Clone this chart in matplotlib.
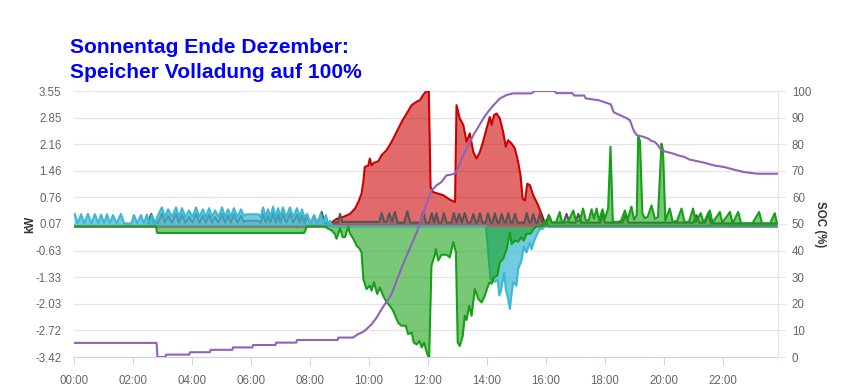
import matplotlib
matplotlib.use("Agg")
import matplotlib.pyplot as plt
import numpy as np

plt.rcParams['font.family'] = ['Liberation Sans', 'DejaVu Sans']

title_lines = ["Sonnentag Ende Dezember:", "Speicher Volladung auf 100%"]
x_tick_hours = [0, 2, 4, 6, 8, 10, 12, 14, 16, 18, 20, 22]
x_tick_labels = ["00:00", "02:00", "04:00", "06:00", "08:00", "10:00", "12:00",
                 "14:00", "16:00", "18:00", "20:00", "22:00"]
kw_ticks = [-3.42, -2.72, -2.03, -1.33, -0.63, 0.07, 0.76, 1.46, 2.16, 2.85, 3.55]
kw_tick_labels = ["-3.42", "-2.72", "-2.03", "-1.33", "-0.63", "0.07", "0.76",
                  "1.46", "2.16", "2.85", "3.55"]
soc_ticks = [0, 10, 20, 30, 40, 50, 60, 70, 80, 90, 100]

# PV production (kW)
pv_t = [0.00, 8.54, 8.74, 8.91, 9.13, 9.36, 9.53, 9.64, 9.75, 9.81, 9.86, 9.98, 10.03,
        10.09, 10.17, 10.32, 10.43, 10.60, 10.77, 10.94, 11.11, 11.28, 11.45, 11.62,
        11.73, 11.84, 11.93, 12.03, 12.09, 12.18, 12.35, 12.52, 12.69, 12.80, 12.92,
        12.97, 13.08, 13.20, 13.31, 13.42, 13.54, 13.65, 13.76, 13.87, 13.99, 14.10,
        14.16, 14.24, 14.33, 14.44, 14.55, 14.64, 14.72, 14.84, 14.95, 15.06, 15.14,
        15.21, 15.29, 15.37, 15.46, 15.57, 15.74, 15.85, 15.93, 16.08, 23.87]
pv_v = [0.00, 0.00, 0.11, 0.20, 0.25, 0.33, 0.47, 0.64, 0.86, 1.17, 1.56, 1.60, 1.78,
        1.60, 1.67, 1.71, 1.87, 2.00, 2.22, 2.48, 2.74, 2.96, 3.18, 3.27,
        3.31, 3.45, 3.53, 3.55, 1.03, 0.90, 0.86, 0.82, 0.73, 0.68, 0.64,
        3.18, 2.83, 2.66, 2.22, 2.44, 1.95, 1.78, 1.95, 2.22, 2.57, 2.87,
        2.66, 2.92, 2.96, 2.83, 2.48, 2.09, 2.26, 2.17, 2.04, 1.69, 1.34,
        0.73, 0.68, 1.12, 1.08, 0.82, 0.55, 0.33, 0.16, 0.00, 0.00]

# House consumption (kW)
house_t = [2.50, 2.62, 2.72, 2.85, 2.98, 3.08, 3.19, 3.32, 3.46, 3.56, 3.66, 3.78, 3.90,
           4.02, 4.14, 4.25, 4.37, 4.47, 4.58, 4.68, 4.78, 4.90, 5.02, 5.12, 5.22, 5.32,
           5.42, 5.54, 5.66, 5.76, 5.85, 6.25, 6.33, 6.41, 6.50, 6.58, 6.66, 6.75, 6.84,
           6.92, 7.00, 7.08, 7.20, 7.32, 7.44, 7.56, 7.65, 7.73, 7.82, 7.90, 8.02, 8.14,
           8.25, 8.40, 8.50, 8.70, 8.95, 9.02, 9.10, 10.35, 10.43, 10.52, 10.60, 10.69,
           10.78, 10.88, 10.97, 11.20, 11.30, 11.40, 11.75, 11.84, 11.93, 12.04, 12.13,
           12.21, 12.29, 12.37, 12.46, 12.54, 12.63, 12.80, 12.88, 12.97, 13.06, 13.15,
           13.25, 13.35, 13.45, 13.54, 13.63, 13.68, 13.76, 13.85, 13.95, 14.04, 14.13,
           14.19, 14.27, 14.36, 14.42, 14.50, 14.59, 14.64, 14.72, 14.81, 14.87, 14.95,
           15.04, 15.27, 15.35, 15.44, 15.49, 15.57, 15.66, 15.72, 15.80, 15.89, 16.00,
           16.10, 16.20, 16.60, 16.70, 16.80, 17.00, 17.10, 17.20, 17.85, 17.92, 18.00,
           18.60, 18.70, 18.80, 21.00, 21.10, 21.20, 21.40, 21.50, 21.60, 23.87]
house_v = [0.08, 0.33, 0.08, 0.10, 0.33, 0.10, 0.28, 0.10, 0.33, 0.10, 0.31, 0.10, 0.25,
           0.10, 0.33, 0.10, 0.28, 0.10, 0.31, 0.10, 0.25, 0.10, 0.33, 0.10, 0.28, 0.10,
           0.31, 0.10, 0.28, 0.12, 0.15, 0.15, 0.10, 0.33, 0.10, 0.28, 0.10, 0.35, 0.10,
           0.31, 0.10, 0.33, 0.10, 0.33, 0.10, 0.31, 0.10, 0.28, 0.08, 0.30, 0.08, 0.28,
           0.08, 0.38, 0.08, 0.10, 0.10, 0.33, 0.12, 0.12, 0.35, 0.12, 0.12, 0.35,
           0.12, 0.38, 0.10, 0.10, 0.40, 0.10, 0.10, 0.38, 0.10, 0.10, 0.35,
           0.10, 0.35, 0.10, 0.10, 0.35, 0.10, 0.10, 0.35, 0.10, 0.33, 0.10,
           0.35, 0.10, 0.10, 0.33, 0.10, 0.10, 0.35, 0.10, 0.10, 0.35, 0.10,
           0.10, 0.35, 0.10, 0.10, 0.33, 0.10, 0.10, 0.35, 0.10, 0.10, 0.33,
           0.10, 0.10, 0.35, 0.10, 0.10, 0.33, 0.10, 0.10, 0.35, 0.10, 0.10,
           0.30, 0.10, 0.10, 0.33, 0.10, 0.10, 0.33, 0.10, 0.10, 0.35, 0.10,
           0.10, 0.30, 0.10, 0.10, 0.30, 0.10, 0.10, 0.35, 0.08, 0.08]

# Grid exchange (kW, + = draw, - = feed-in)
grid_t = [0.00, 0.03, 0.12, 0.24, 0.35, 0.47, 0.59, 0.71, 0.82, 0.92, 1.02, 1.12, 1.22,
          1.32, 1.45, 1.59, 1.70, 1.95, 2.03, 2.15, 2.27, 2.37, 2.47, 2.55, 2.64, 2.76,
          2.82, 2.98, 3.08, 3.19, 3.32, 3.46, 3.56, 3.66, 3.78, 3.90, 4.02, 4.14, 4.25,
          4.37, 4.47, 4.58, 4.68, 4.78, 4.90, 5.02, 5.12, 5.22, 5.32, 5.42, 5.54, 5.66,
          5.76, 5.85, 6.25, 6.33, 6.41, 6.50, 6.58, 6.66, 6.75, 6.84, 6.92, 7.00, 7.08,
          7.20, 7.32, 7.44, 7.56, 7.65, 7.73, 7.82, 7.90, 8.02, 8.14, 8.25, 8.37, 8.46,
          8.54, 8.62, 8.68, 8.75, 13.97, 14.12, 14.25, 14.37, 14.42, 14.48, 14.53, 14.59,
          14.64, 14.72, 14.78, 14.83, 14.89, 15.00, 15.06, 15.17, 15.25, 15.34, 15.46,
          15.51, 15.63, 15.71, 15.80, 15.89, 15.97, 23.87]
grid_v = [0.28, 0.33, 0.08, 0.32, 0.08, 0.33, 0.08, 0.32, 0.08, 0.31, 0.08, 0.32, 0.08,
          0.30, 0.08, 0.33, 0.08, 0.08, 0.30, 0.08, 0.30, 0.08, 0.31, 0.08, 0.30, 0.08,
          0.25, 0.50, 0.25, 0.45, 0.25, 0.50, 0.25, 0.48, 0.25, 0.42, 0.25, 0.50, 0.25,
          0.45, 0.25, 0.48, 0.25, 0.42, 0.25, 0.50, 0.25, 0.45, 0.25, 0.48, 0.25, 0.45,
          0.28, 0.32, 0.32, 0.25, 0.50, 0.25, 0.45, 0.25, 0.52, 0.25, 0.48, 0.25, 0.50,
          0.25, 0.50, 0.25, 0.48, 0.25, 0.45, 0.22, 0.33, 0.08, 0.30, 0.08, 0.33, 0.08,
          0.30, 0.05, 0.15, 0.00, 0.00, -1.37, -1.45, -1.40, -1.81, -1.68, -1.45, -1.20,
          -1.64, -1.90, -2.16, -1.81, -1.45, -1.55, -1.11, -0.90, -0.54, -0.68, -0.42,
          -0.60, -0.32, -0.19, -0.06, -0.06, 0.00, 0.00]

# Battery (kW, - = charging, + = discharging)
bat_t = [0.00, 2.78, 2.82, 7.80, 7.90, 8.50, 8.60, 8.73, 8.84, 8.90, 9.02, 9.11, 9.19,
         9.30, 9.36, 9.47, 9.58, 9.69, 9.75, 9.81, 9.92, 10.03, 10.09, 10.17, 10.28,
         10.37, 10.48, 10.60, 10.71, 10.82, 10.99, 11.10, 11.25, 11.33, 11.45, 11.52,
         11.62, 11.71, 11.79, 11.87, 11.96, 12.04, 12.12, 12.24, 12.27, 12.35, 12.46,
         12.63, 12.74, 12.86, 12.95, 13.01, 13.08, 13.18, 13.25, 13.31, 13.40, 13.48,
         13.59, 13.71, 13.82, 13.93, 14.04, 14.10, 14.16, 14.24, 14.35, 14.44, 14.55,
         14.67, 14.78, 14.84, 14.95, 15.06, 15.17, 15.25, 15.34, 15.48, 15.59, 15.68,
         15.85, 15.97, 16.03, 16.10, 16.20, 16.35, 16.47, 16.55, 16.75, 16.93, 17.02,
         17.15, 17.26, 17.35, 17.45, 17.55, 17.63, 17.72, 17.80, 17.92, 18.00, 18.11,
         18.19, 18.27, 18.45, 18.55, 18.68, 18.77, 18.90, 18.99, 19.08, 19.13, 19.19,
         19.27, 19.35, 19.45, 19.58, 19.70, 19.80, 19.92, 19.97, 20.05, 20.20, 20.30,
         20.45, 20.60, 20.70, 20.85, 20.99, 21.08, 21.25, 21.35, 21.56, 21.65, 21.90,
         21.98, 22.24, 22.33, 22.52, 22.62, 23.00, 23.23, 23.33, 23.60, 23.76, 23.83]
bat_v = [0.00, 0.00, -0.17, -0.17, 0.00, 0.00, -0.05, -0.10, -0.19, -0.32, -0.05, -0.28,
         -0.28, 0.00, -0.19, -0.32, -0.50, -0.59, -0.68, -1.38, -1.64, -1.55, -1.68,
         -1.46, -1.77, -1.60, -1.81, -1.99, -2.08, -2.21, -2.52, -2.60, -2.60, -2.82,
         -2.78, -3.04, -3.09, -3.00, -3.17, -3.04, -3.30, -3.46, -1.03, -0.72, -0.59,
         -0.89, -0.74, -0.74, -0.81, -0.41, -0.68, -3.04, -3.13, -2.87, -2.34, -2.45,
         -2.08, -2.34, -1.64, -1.90, -1.99, -1.81, -1.55, -1.46, -1.50, -1.33, -1.29,
         -0.94, -0.85, -0.59, -0.15, -0.46, -0.37, -0.40, -0.28, -0.37, -0.19, -0.19,
         -0.06, 0.00, 0.00, 0.16, 0.05, 0.30, 0.10, 0.12, 0.38, 0.10, 0.12, 0.42, 0.15,
         0.15, 0.47, 0.17, 0.15, 0.45, 0.20, 0.47, 0.15, 0.45, 0.20, 0.47,
         2.09, 0.12, 0.12, 0.15, 0.42, 0.18, 0.52, 0.18, 0.30, 2.35, 2.25,
         0.35, 0.22, 0.25, 0.55, 0.20, 0.25, 2.17, 2.00, 0.15, 0.47, 0.12,
         0.15, 0.47, 0.12, 0.12, 0.47, 0.12, 0.35, 0.10, 0.42, 0.10, 0.38,
         0.10, 0.38, 0.08, 0.38, 0.08, 0.08, 0.38, 0.08, 0.08, 0.35, 0.10]

# State of charge (%)
soc_t = [0.00, 2.80, 2.83, 3.10, 3.12, 3.91, 3.93, 4.61, 4.63, 5.37, 5.39, 6.05, 6.07,
         6.83, 6.85, 7.54, 7.56, 8.94, 8.96, 9.46, 9.63, 9.80, 9.92, 10.09, 10.26, 10.43,
         10.60, 10.77, 10.94, 11.11, 11.28, 11.45, 11.62, 11.79, 11.95, 12.12, 12.29,
         12.46, 12.63, 12.80, 12.92, 13.03, 13.20, 13.37, 13.54, 13.71, 13.88, 14.04,
         14.21, 14.44, 14.67, 14.89, 15.51, 15.62, 16.30, 16.35, 16.90, 16.95, 17.30,
         17.35, 17.80, 18.20, 18.30, 18.50, 18.70, 18.85, 18.97, 19.08, 19.30, 19.47,
         19.58, 19.69, 19.80, 19.92, 20.09, 20.31, 20.48, 20.70, 20.87, 21.10, 21.38,
         21.71, 22.05, 22.39, 22.73, 23.17, 23.85]
soc_v = [5.3, 5.3, 0.0, 0.0, 0.9, 0.9, 1.8, 1.8, 2.7, 2.7, 3.6, 3.6, 4.5,
         4.5, 5.4, 5.4, 6.4, 6.4, 7.3, 7.3, 8.6, 9.4, 10.5, 12.3, 14.8, 18.0,
         20.8, 23.7, 28.7, 33.7, 38.1, 42.5, 46.9, 52.0, 57.6, 62.6, 64.5,
         65.8, 68.3, 68.6, 69.0, 71.4, 75.8, 79.6, 83.4, 86.5, 89.7, 92.2,
         94.5, 97.2, 98.5, 99.1, 99.1, 100.0, 100.0, 99.2, 99.2, 98.3, 98.3,
         97.2, 96.5, 95.0, 92.0, 91.0, 90.0, 89.0, 85.3, 83.4, 82.8, 82.1,
         81.2, 80.9, 79.6, 77.7, 77.1, 76.5, 75.8, 75.2, 74.2, 73.7, 73.0,
         72.0, 71.4, 70.4, 69.5, 68.9, 68.9]

W, H = 849, 390
fig = plt.figure(figsize=(W / 100, H / 100), dpi=100)
L, R, T, B = 74, 778, 91, 357
ax = fig.add_axes([L / W, 1 - B / H, (R - L) / W, (B - T) / H])
ax.set_xlim(0, 23.87)
ax.set_ylim(-3.42, 3.55)

red_line, red_fill = '#cc0000', (0.80, 0.0, 0.0, 0.58)
gray_line, gray_fill = '#555555', (0.33, 0.33, 0.33, 0.35)
cyan_line, cyan_fill = '#3db7d4', (0.24, 0.72, 0.83, 0.72)
green_line, green_fill = '#17a017', (0.09, 0.63, 0.09, 0.58)
purple = '#9062b8'
lw = 1.5

ax.fill_between(pv_t, 0, pv_v, color=red_fill, lw=0, zorder=2)
ax.plot(pv_t, pv_v, color=red_line, lw=lw, zorder=2.1)
ax.fill_between(house_t, 0, house_v, color=gray_fill, lw=0, zorder=3)
ax.plot(house_t, house_v, color=gray_line, lw=lw, zorder=3.1)
ax.fill_between(grid_t, 0, grid_v, color=cyan_fill, lw=0, zorder=4)
ax.plot(grid_t, grid_v, color=cyan_line, lw=lw, zorder=4.1)
ax.fill_between(bat_t, 0, bat_v, color=green_fill, lw=0, zorder=5)
ax.plot(bat_t, bat_v, color=green_line, lw=lw, zorder=5.1)

ax.set_yticks(kw_ticks)
ax.set_yticklabels(kw_tick_labels)
ax.grid(axis='y', color='#e6e6e6', lw=1.0)
ax.set_axisbelow(True)
ax.set_xticks(x_tick_hours)
ax.set_xticklabels(x_tick_labels)
for s in ['top', 'left', 'right']:
    ax.spines[s].set_visible(False)
ax.spines['bottom'].set_color('#ccd6eb')
ax.tick_params(axis='y', length=0, pad=9, labelsize=8.3, labelcolor='#666666')
ax.tick_params(axis='x', length=6, color='#ccd6eb', pad=7, labelsize=8.3,
               labelcolor='#666666')

ax2 = ax.twinx()
ax2.set_ylim(0, 100)
ax2.set_yticks(soc_ticks)
ax2.plot(soc_t, soc_v, color=purple, lw=lw, zorder=6)
for s in ['top', 'left', 'bottom']:
    ax2.spines[s].set_visible(False)
ax2.spines['right'].set_color('#e6e6e6')
ax2.tick_params(axis='y', length=6, color='#e6e6e6', pad=4, labelsize=8.3,
                labelcolor='#666666')

fig.text(30 / W, 1 - 224 / H, 'kW', rotation=90, ha='center', va='center',
         fontsize=8.3, fontweight='bold', color='#333333')
fig.text(820 / W, 1 - 224 / H, 'SOC (%)', rotation=270, ha='center', va='center',
         fontsize=8.3, fontweight='bold', color='#333333')

fig.text(70 / W, 1 - 53 / H, title_lines[0], ha='left', va='baseline',
         fontsize=15.1, fontweight='bold', color='#0000ff')
fig.text(70 / W, 1 - 78 / H, title_lines[1], ha='left', va='baseline',
         fontsize=15.1, fontweight='bold', color='#0000ff')

fig.savefig('out.png', dpi=100)
